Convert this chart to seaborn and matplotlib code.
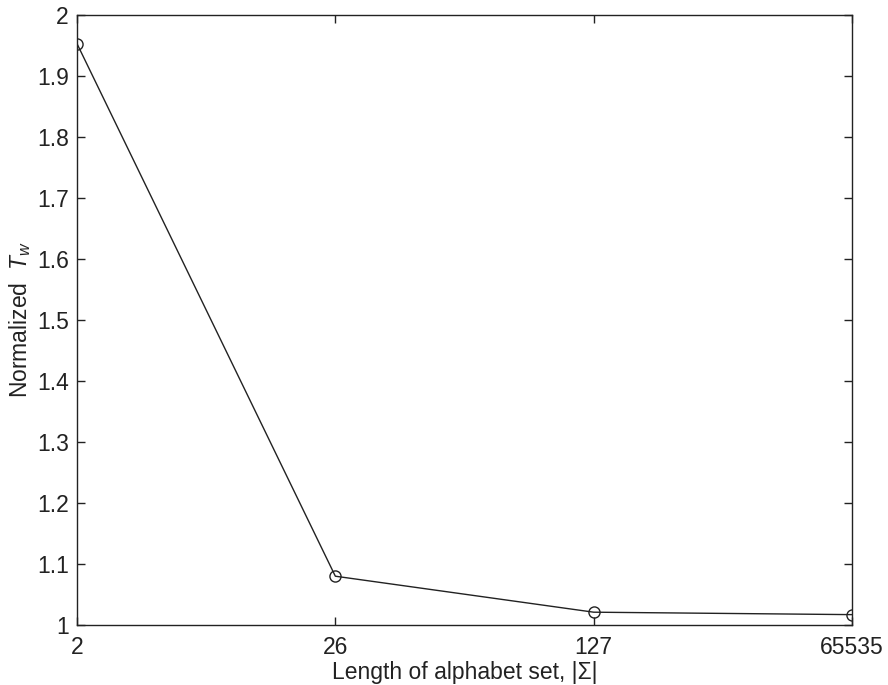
import matplotlib
matplotlib.use("Agg")
import matplotlib.pyplot as plt
import seaborn as sns
import pandas as pd

categories = ["2", "26", "127", "65535"]
values = [1.953, 1.080, 1.021, 1.017]
y_ticks = [1, 1.1, 1.2, 1.3, 1.4, 1.5, 1.6, 1.7, 1.8, 1.9, 2]
y_tick_labels = ["1", "1.1", "1.2", "1.3", "1.4", "1.5", "1.6", "1.7", "1.8", "1.9", "2"]

sns.set_theme(style="ticks")
plt.rcParams["font.family"] = ["Liberation Sans", "DejaVu Sans"]
plt.rcParams["mathtext.fontset"] = "custom"
plt.rcParams["mathtext.it"] = "Liberation Sans:italic"
plt.rcParams["mathtext.rm"] = "Liberation Sans"

df = pd.DataFrame({"pos": range(len(categories)), "val": values})

fig = plt.figure(figsize=(8.88, 6.85), dpi=100)
ax = fig.add_axes([77/888, 1-625/685, (852-77)/888, (625-15)/685])

sns.lineplot(data=df, x="pos", y="val", ax=ax, color="#222222", linewidth=1.0,
             marker="o", markersize=8, markerfacecolor="none",
             markeredgecolor="#222222", markeredgewidth=1.0)

ax.set_xlim(0, len(categories) - 1)
ax.set_ylim(1, 2)
ax.set_xticks(range(len(categories)))
ax.set_xticklabels(categories)
ax.set_yticks(y_ticks)
ax.set_yticklabels(y_tick_labels)
ax.tick_params(direction="in", length=6, width=1, labelsize=16.5, colors="#222222",
               top=True, right=True, pad=6)
ax.tick_params(axis="x", pad=8)
for s in ax.spines.values():
    s.set_linewidth(1.0)
    s.set_color("#222222")
ax.set_xlabel("Length of alphabet set, |Σ|", fontsize=16.5, color="#222222", labelpad=1)
ax.set_ylabel("Normalized  $T_w$", fontsize=16.5, color="#222222", labelpad=3)

fig.savefig("out.png", dpi=100)
